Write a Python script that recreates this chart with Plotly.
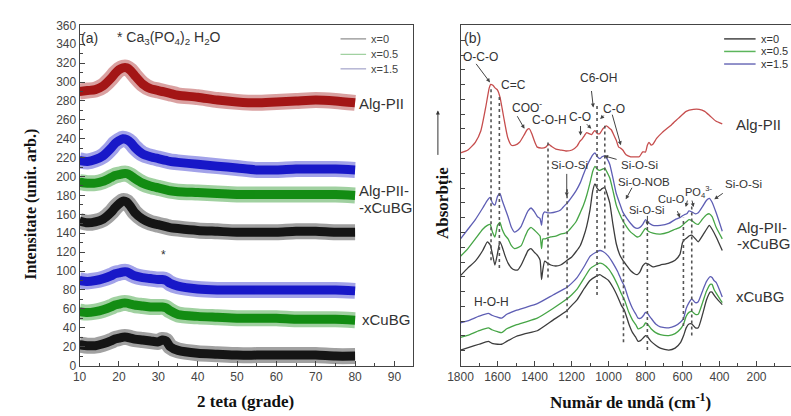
import plotly.graph_objects as go

W, H = 791, 416


def px(x):
    return x / W


def py(y):
    return 1 - y / H


# ---------------- (a) XRD data ----------------
two_theta = [10, 12, 14, 16, 18, 19, 20, 21, 22, 23, 24, 26, 28, 30, 31, 32, 33, 35,
             40, 45, 50, 55, 60, 65, 70, 75, 80]
xrd_alg = [290, 291, 292, 296, 304, 309, 313, 315, 315, 312, 307, 298, 293, 291, 290, 289, 288, 286,
           284, 281, 279, 278, 279, 280, 281, 280, 278]
xrd_alg_x15 = [217, 216, 218, 222, 230, 235, 238, 240, 239, 236, 231, 224, 221, 219, 218, 217, 216, 215,
               213, 211, 209, 207, 207, 208, 208, 208, 207]
xrd_alg_x05 = [194, 193, 193, 195, 199, 201, 202, 203, 203, 201, 198, 193, 190, 188, 187, 186, 185, 184,
               183, 182, 181, 181, 181, 181, 181, 181, 180]
xrd_alg_x0 = [153, 151, 152, 155, 162, 167, 171, 174, 173, 168, 162, 155, 151, 149, 148, 147, 146, 145,
              143, 142, 141, 141, 141, 142, 142, 141, 141]
xrd_bg_x15 = [90, 89, 90, 92, 95, 97, 98, 99, 99, 97, 95, 93, 92, 91, 91, 90, 87, 84,
              81, 80, 80, 80, 80, 80, 80, 80, 79]
xrd_bg_x05 = [57, 56, 57, 59, 62, 64, 65, 66, 66, 65, 64, 63, 62, 62, 62, 61, 58, 54,
              52, 51, 50, 50, 50, 49, 49, 49, 48]
xrd_bg_x0 = [22, 21, 21, 23, 26, 28, 29, 30, 30, 29, 28, 27, 26, 25, 27, 26, 20, 16,
             13, 12, 11, 11, 11, 11, 11, 10, 10]
xrd_ticks = [10, 20, 30, 40, 50, 60, 70, 80, 90]

# ---------------- (b) FTIR data ----------------
wn_alg = [1800, 1760, 1720, 1690, 1665, 1645, 1637, 1625, 1612, 1600, 1587, 1575, 1561, 1545, 1525,
          1505, 1481, 1455, 1440, 1428, 1415, 1400, 1385, 1360, 1339, 1325, 1310, 1285, 1259, 1230,
          1197, 1170, 1155, 1144, 1130, 1118, 1105, 1091, 1080, 1073, 1060, 1047, 1030, 1011, 998,
          985, 970, 958, 945, 935, 923, 905, 880, 855, 834, 815, 800, 790, 781, 770,
          760, 740, 710, 660, 621, 580, 541, 510, 480, 450, 420, 385]
ab_alg = [220, 223, 231, 243, 266, 287, 291, 290, 287, 285, 278, 266, 251, 236, 228,
          228, 231, 239, 244, 245, 240, 232, 226, 225, 226, 229, 227, 224, 223, 222,
          223, 227, 232, 234, 238, 241, 240, 239, 242, 243, 240, 240, 245, 248, 246,
          244, 238, 233, 226, 225, 223, 218, 216, 216, 216, 221, 221, 228, 231, 228,
          229, 235, 241, 249, 256, 263, 265, 265, 263, 258, 253, 250]

wn_mix = [1800, 1760, 1720, 1680, 1655, 1640, 1627, 1614, 1600, 1587, 1575, 1560, 1543, 1525, 1508,
          1490, 1472, 1450, 1435, 1419, 1400, 1384, 1370, 1362, 1355, 1345, 1330, 1312, 1285, 1259,
          1235, 1224, 1200, 1175, 1153, 1135, 1118, 1100, 1085, 1073, 1060, 1047, 1035, 1020, 1005,
          993, 976, 958, 940, 923, 900, 880, 860, 845, 830, 815, 800, 785, 760, 720,
          674, 640, 614, 600, 590, 577, 565, 550, 530, 515, 490, 470, 455, 440, 418, 385]
ab_mix_x15 = [131, 141, 151, 163, 171, 174, 168, 166, 175, 178, 171, 163, 154, 143, 138,
              140, 144, 154, 160, 163, 159, 154, 152, 145, 156, 159, 158, 158, 159, 161,
              166, 168, 174, 181, 189, 198, 206, 213, 218, 220, 216, 214, 216, 217, 213,
              208, 194, 178, 168, 159, 152, 147, 143, 142, 143, 146, 151, 148, 145, 145,
              147, 151, 153, 155, 156, 157, 160, 159, 157, 158, 165, 171, 173, 169, 158, 139]
ab_mix_x05 = [113, 121, 131, 141, 145, 146, 138, 133, 145, 148, 141, 135, 131, 124, 121,
              122, 124, 134, 140, 143, 140, 137, 134, 121, 131, 131, 132, 133, 134, 136,
              137, 138, 143, 149, 158, 166, 176, 189, 201, 206, 203, 202, 203, 204, 199,
              194, 181, 166, 157, 150, 143, 138, 135, 133, 134, 138, 142, 139, 137, 136,
              138, 141, 143, 145, 147, 149, 151, 150, 147, 146, 152, 156, 157, 154, 143, 131]
ab_mix_x0 = [93, 101, 108, 119, 128, 125, 115, 104, 116, 128, 123, 114, 106, 101, 99,
             99, 104, 113, 119, 121, 117, 114, 109, 89, 99, 108, 106, 104, 103, 104,
             107, 109, 112, 118, 124, 133, 144, 161, 181, 188, 183, 181, 183, 184, 176,
             168, 146, 126, 115, 109, 103, 98, 95, 94, 97, 103, 106, 105, 102, 104,
             106, 109, 115, 127, 130, 132, 134, 135, 131, 128, 135, 141, 145, 141, 133, 119]

wn_bg = [1800, 1750, 1700, 1650, 1630, 1600, 1578, 1550, 1500, 1450, 1385, 1300, 1224, 1200, 1170,
         1130, 1100, 1070, 1047, 1030, 1000, 976, 950, 930, 914, 890, 870, 852, 840, 825,
         810, 800, 790, 770, 745, 720, 674, 640, 610, 594, 580, 565, 550, 530, 515,
         490, 470, 450, 440, 430, 418, 385]
ab_bg_x15 = [44, 47, 51, 54, 52, 50, 49, 53, 57, 60, 64, 73, 81, 85, 91,
             103, 113, 117, 119, 118, 113, 106, 97, 88, 82, 68, 59, 53, 49, 49,
             52, 55, 54, 49, 43, 40, 39, 41, 45, 49, 59, 65, 69, 65, 66,
             78, 87, 92, 91, 88, 86, 71]
ab_bg_x05 = [29, 32, 36, 39, 37, 35, 34, 38, 42, 45, 49, 59, 69, 73, 79,
             91, 100, 104, 106, 105, 100, 93, 83, 74, 68, 55, 47, 42, 38, 39,
             41, 44, 43, 38, 34, 32, 31, 33, 38, 43, 51, 55, 56, 53, 53,
             66, 77, 84, 84, 79, 75, 65]
ab_bg_x0 = [16, 19, 22, 25, 23, 22, 22, 25, 30, 33, 36, 47, 57, 62, 68,
            80, 88, 92, 94, 92, 88, 81, 71, 62, 57, 43, 34, 29, 25, 26,
            29, 31, 30, 25, 21, 18, 16, 18, 24, 31, 39, 43, 43, 39, 39,
            54, 68, 76, 76, 73, 70, 63]

# band assignment guide lines (wavenumber, top, bottom)
ref_wn = [1635, 1590, 1327, 1224, 1062, 1020, 919, 790, 595, 550]
ref_top = [289, 281, 231, 184, 271, 248, 156, 151, 153, 166]
ref_bottom = [109, 101, 91, 49, 73, 121, 24, 16, 41, 31]
ftir_ticks = [1800, 1600, 1400, 1200, 1000, 800, 600, 400, 200]

legend_labels = ["x=0", "x=0.5", "x=1.5"]

# ---------------- styles ----------------
SANS = "Liberation Sans, Arial, sans-serif"
SERIF = "Liberation Serif, Times New Roman, serif"
xrd_colors = {"red": "#a31616", "blue": "#1818c8", "green": "#138c13", "black": "#151515"}
ftir_colors = {"red": "#c64d4d", "blue": "#5e5eb4", "green": "#46a546", "black": "#3c3c3c"}
legend_a_colors = ["#8a8a8a", "#9ccf9c", "#a3a3c9"]
legend_b_colors = ["#454545", "#5cb55c", "#6e6eb8"]

fig = go.Figure()

xrd_sets = [
    (xrd_alg, xrd_colors["red"]),
    (xrd_alg_x15, xrd_colors["blue"]),
    (xrd_alg_x05, xrd_colors["green"]),
    (xrd_alg_x0, xrd_colors["black"]),
    (xrd_bg_x15, xrd_colors["blue"]),
    (xrd_bg_x05, xrd_colors["green"]),
    (xrd_bg_x0, xrd_colors["black"]),
]
for ys, col in xrd_sets:
    fig.add_trace(go.Scatter(x=two_theta, y=ys, mode="lines", opacity=0.4,
                             line=dict(color=col, width=16, shape="spline", smoothing=0.7),
                             showlegend=False, hoverinfo="skip", xaxis="x", yaxis="y"))
    fig.add_trace(go.Scatter(x=two_theta, y=ys, mode="lines",
                             line=dict(color=col, width=9, shape="spline", smoothing=0.7),
                             showlegend=False, xaxis="x", yaxis="y"))

ftir_sets = [
    (wn_alg, ab_alg, ftir_colors["red"]),
    (wn_mix, ab_mix_x15, ftir_colors["blue"]),
    (wn_mix, ab_mix_x05, ftir_colors["green"]),
    (wn_mix, ab_mix_x0, ftir_colors["black"]),
    (wn_bg, ab_bg_x15, ftir_colors["blue"]),
    (wn_bg, ab_bg_x05, ftir_colors["green"]),
    (wn_bg, ab_bg_x0, ftir_colors["black"]),
]
for xs, ys, col in ftir_sets:
    fig.add_trace(go.Scatter(x=xs, y=ys, mode="lines",
                             line=dict(color=col, width=1.3, shape="spline", smoothing=0.5),
                             showlegend=False, xaxis="x2", yaxis="y2"))

# guide lines
shapes = []
for w, t, b in zip(ref_wn, ref_top, ref_bottom):
    shapes.append(dict(type="line", xref="x2", yref="y2", x0=w, x1=w, y0=b, y1=t,
                       line=dict(color="#555555", width=1.6, dash="3px,3px")))

ann = []


def text(t, x, y, size=12, anchor="left", color="#333333", family=SANS, **kw):
    ann.append(dict(text=t, x=px(x), y=py(y), xref="paper", yref="paper", showarrow=False,
                    xanchor=anchor, yanchor="middle", font=dict(family=family, size=size, color=color), **kw))


def arrow(tail, head, color="#444444"):
    ann.append(dict(text="", x=px(head[0]), y=py(head[1]), xref="paper", yref="paper",
                    ax=tail[0] - head[0], ay=tail[1] - head[1], axref="pixel", ayref="pixel",
                    showarrow=True, arrowhead=2, arrowsize=0.8, arrowwidth=1, arrowcolor=color))


# legends (line sample + label), one per panel
legend_a_rows = [33, 49, 64]
legend_b_rows = [33, 46, 59]
for lab, col, yy in zip(legend_labels, legend_a_colors, legend_a_rows):
    shapes.append(dict(type="line", xref="paper", yref="paper", x0=px(333), x1=px(359),
                       y0=py(yy), y1=py(yy), line=dict(color=col, width=1.2)))
    text(lab, 362, yy, 11, color="#444444")
for lab, col, yy in zip(legend_labels, legend_b_colors, legend_b_rows):
    shapes.append(dict(type="line", xref="paper", yref="paper", x0=px(723), x1=px(755),
                       y0=py(yy), y1=py(yy), line=dict(color=col, width=1.5)))
    text(lab, 758, yy, 11, color="#333333")

ydom = [py(371), py(19)]
tickfont = dict(family=SANS, size=12, color="#444444")

layout = dict(
    width=W, height=H, margin=dict(l=0, r=0, t=0, b=0),
    paper_bgcolor="white", plot_bgcolor="white",
    showlegend=False,
    xaxis=dict(domain=[px(67.7), px(407)], range=[10, 94.8], tickvals=xrd_ticks,
               ticks="inside", ticklen=5, tickcolor="#444", showline=True, mirror=True,
               linecolor="#444", linewidth=1, showgrid=False, zeroline=False, tickfont=tickfont,
               minor=dict(ticks="inside", dtick=5, ticklen=3, tickcolor="#444", showgrid=False)),
    yaxis=dict(domain=ydom, range=[0, 360], dtick=20, tick0=0,
               ticks="inside", ticklen=5, tickcolor="#444", showline=True, mirror=True,
               linecolor="#444", linewidth=1, showgrid=False, zeroline=False, tickfont=tickfont,
               minor=dict(ticks="inside", dtick=10, ticklen=3, tickcolor="#444", showgrid=False)),
    xaxis2=dict(domain=[px(455), 1.0], range=[1800, 13.4], tickvals=ftir_ticks,
                ticks="inside", ticklen=5, tickcolor="#444", showline=True, mirror=True,
                linecolor="#444", linewidth=1, showgrid=False, zeroline=False, tickfont=tickfont,
                anchor="y2",
                minor=dict(ticks="inside", dtick=100, ticklen=3, tickcolor="#444", showgrid=False)),
    yaxis2=dict(domain=ydom, range=[0, 352], dtick=15.3, tick0=0, showticklabels=False,
                ticks="inside", ticklen=4, tickcolor="#444", showline=True, mirror=False,
                linecolor="#444", linewidth=1, showgrid=False, zeroline=False, anchor="x2"),
)

# panel (a) texts
text("(a)", 67, 32, 14)
text("* Ca<sub>3</sub>(PO<sub>4</sub>)<sub>2</sub> H<sub>2</sub>O", 104, 32, 14)
text("Alg-PII", 350, 100, 15)
text("Alg-PII-", 350, 190, 15)
text("-xCuBG", 350, 207, 15)
text("xCuBG", 353, 323, 15)
text("*", 153, 257, 12, anchor="center")

# panel (b) texts
text("(b)", 457, 32, 14)
text("O-C-O", 455, 52)
text("C=C", 494, 81)
text("COO<sup>-</sup>", 505, 103)
text("C-O-H", 526, 117)
text("C-O", 563, 114)
text("C6-OH", 574, 73)
text("C-O", 598, 106)
text("Si-O-Si", 545, 163, 11.5)
text("Si-O-Si", 616, 163, 11.5)
text("Si-O-NOB", 613, 181, 11.5)
text("Cu-O", 654, 199, 11)
text("PO<sub>4</sub><sup>3-</sup>", 681, 191, 11)
text("Si-O-Si", 624, 210, 11)
text("Si-O-Si", 722, 183, 11.5)
text("H-O-H", 467, 305)
text("Alg-PII", 733, 122, 15)
text("Alg-PII-", 734, 228, 15)
text("-xCuBG", 734, 245, 15)
text("xCuBG", 733, 300, 15)

arrows_b = [
    ((470, 58), (485, 78)),
    ((512, 112), (520, 126)),
    ((577, 122), (577, 133)),
    ((582, 120), (588, 126)),
    ((588, 86), (590, 104)),
    ((602, 111), (597, 116)),
    ((609, 111), (618, 143)),
    ((615, 158), (601, 154)),
    ((563, 172), (563, 196)),
    ((630, 186), (623, 199)),
    ((645, 215), (645, 226)),
    ((675, 210), (678, 218)),
    ((686, 199), (684, 207)),
    ((690, 199), (692, 207)),
    ((723, 192), (713, 199)),
]
for t_, h_ in arrows_b:
    arrow(t_, h_)

# axis titles
text("Intensitate (unit. arb.)", 18, 204, 16, anchor="center", color="#111", family=SERIF,
     textangle=-90)
ann[-1]["font"]["weight"] = "bold"
text("2 teta (grade)", 236, 408, 17, anchor="center", color="#111", family=SERIF)
ann[-1]["font"]["weight"] = "bold"
text("Număr de undă (cm<sup>-1</sup>)", 628, 408, 17, anchor="center", color="#111", family=SERIF)
ann[-1]["font"]["weight"] = "bold"
text("Absorbție", 437, 203, 17, anchor="center", color="#111", family=SERIF, textangle=-90)
ann[-1]["font"]["weight"] = "bold"
arrow((432, 153), (432, 107), color="#333333")

layout["shapes"] = shapes
layout["annotations"] = ann
fig.update_layout(**layout)
fig.write_html("out.html")
